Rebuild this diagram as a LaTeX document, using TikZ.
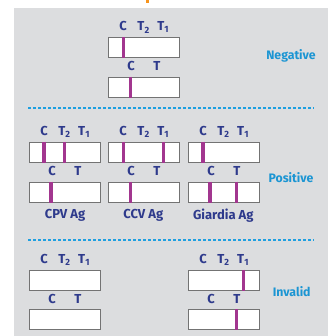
\documentclass[tikz,border=0pt]{standalone}
\usepackage{fontspec}
\setmainfont{Fira Sans}
\usetikzlibrary{positioning}
\definecolor{navy}{HTML}{2E3A8C}
\definecolor{skyblue}{HTML}{1B95D3}
\definecolor{bandpurple}{HTML}{A2368F}
\definecolor{panelgray}{HTML}{DCDDDF}
\definecolor{dashblue}{HTML}{1E9FE0}
\definecolor{tickorange}{HTML}{F7941D}
\tikzstyle{strip} = [draw=black!55, fill=white, line width=0.8pt, minimum width=71pt, minimum height=20.3pt, inner sep=0pt]
\tikzstyle{band} = [bandpurple, line width=3.3pt]
\tikzstyle{lbl} = [text=navy, font=\bfseries\fontsize{13}{14}\selectfont, inner sep=0pt, anchor=base]
\tikzstyle{result} = [text=skyblue, font=\bfseries\fontsize{12.3}{13}\selectfont, inner sep=0pt]
\tikzstyle{sep} = [dashblue, line width=1.2pt, dash pattern=on 3pt off 2pt]

\begin{document}
\begin{tikzpicture}[x=1pt, y=-1pt]
	\useasboundingbox (0,0) rectangle (328,336);
	\fill[panelgray] (14,8) rectangle (328,336);
	\fill[tickorange] (145.7,0) rectangle (149.3,3.5);

	% negative
	\node[strip] (negA) at (143.8,47.5) {};
	\node[strip] (negB) at (143.8,87.5) {};
	\node[lbl] (negAc) at ([xshift=15.3pt, yshift=6pt]negA.north west) {C};
	\node[lbl] (negAt2) at ([xshift=35.7pt, yshift=6pt]negA.north west) {T\textsubscript{2}};
	\node[lbl] (negAt1) at ([xshift=55.3pt, yshift=6pt]negA.north west) {T\textsubscript{1}};
	\node[lbl] (negBc) at ([xshift=23.3pt, yshift=6pt]negB.north west) {C};
	\node[lbl] (negBt) at ([xshift=49pt, yshift=6pt]negB.north west) {T};
	\draw[band] ([xshift=15.3pt]negA.north west) -- ([xshift=15.3pt]negA.south west);
	\draw[band] ([xshift=22.3pt]negB.north west) -- ([xshift=22.3pt]negB.south west);
	\node[result] (neg) at (291,55.5) {Negative};

	\draw[sep] (28.3,108) -- (314,108);

	% positive
	\node[strip] (cpvA) at (64.7,152.2) {};
	\node[strip] (cpvB) at (64.7,192.3) {};
	\node[strip] (ccvA) at (143.8,152.2) {};
	\node[strip] (ccvB) at (143.8,192.3) {};
	\node[strip] (giaA) at (223.7,152.2) {};
	\node[strip] (giaB) at (223.7,192.3) {};
	\foreach \s in {cpvA,ccvA,giaA}{
		\node[lbl] at ([xshift=15.3pt, yshift=6pt]\s.north west) {C};
		\node[lbl] at ([xshift=35.7pt, yshift=6pt]\s.north west) {T\textsubscript{2}};
		\node[lbl] at ([xshift=55.3pt, yshift=6pt]\s.north west) {T\textsubscript{1}};
	}
	\foreach \s in {cpvB,ccvB,giaB}{
		\node[lbl] at ([xshift=23.3pt, yshift=6pt]\s.north west) {C};
		\node[lbl] at ([xshift=49pt, yshift=6pt]\s.north west) {T};
	}
	\draw[band] ([xshift=15.3pt]cpvA.north west) -- ([xshift=15.3pt]cpvA.south west);
	\draw[band] ([xshift=35.7pt]cpvA.north west) -- ([xshift=35.7pt]cpvA.south west);
	\draw[band] ([xshift=22.3pt]cpvB.north west) -- ([xshift=22.3pt]cpvB.south west);
	\draw[band] ([xshift=15.3pt]ccvA.north west) -- ([xshift=15.3pt]ccvA.south west);
	\draw[band] ([xshift=55.3pt]ccvA.north west) -- ([xshift=55.3pt]ccvA.south west);
	\draw[band] ([xshift=22.3pt]ccvB.north west) -- ([xshift=22.3pt]ccvB.south west);
	\draw[band] ([xshift=15.3pt]giaA.north west) -- ([xshift=15.3pt]giaA.south west);
	\draw[band] ([xshift=22.3pt]giaB.north west) -- ([xshift=22.3pt]giaB.south west);
	\draw[band] ([xshift=48.5pt]giaB.north west) -- ([xshift=48.5pt]giaB.south west);
	\node[lbl, anchor=center] (cpv) at (65,215.8) {CPV Ag};
	\node[lbl, anchor=center] (ccv) at (143.3,215.8) {CCV Ag};
	\node[lbl, anchor=center] (gia) at (223.3,215.8) {Giardia Ag};
	\node[result] (pos) at (291,177.3) {Positive};

	\draw[sep] (28.3,240) -- (314,240);

	% invalid
	\node[strip] (invlA) at (64.7,280.2) {};
	\node[strip] (invlB) at (64.7,319.7) {};
	\node[strip] (invrA) at (223.7,280.2) {};
	\node[strip] (invrB) at (223.7,319.7) {};
	\foreach \s in {invlA,invrA}{
		\node[lbl] at ([xshift=15.3pt, yshift=6pt]\s.north west) {C};
		\node[lbl] at ([xshift=35.7pt, yshift=6pt]\s.north west) {T\textsubscript{2}};
		\node[lbl] at ([xshift=55.3pt, yshift=6pt]\s.north west) {T\textsubscript{1}};
	}
	\foreach \s in {invlB,invrB}{
		\node[lbl] at ([xshift=23.3pt, yshift=6pt]\s.north west) {C};
		\node[lbl] at ([xshift=49pt, yshift=6pt]\s.north west) {T};
	}
	\draw[band] ([xshift=55.7pt]invrA.north west) -- ([xshift=55.7pt]invrA.south west);
	\draw[band] ([xshift=48.4pt]invrB.north west) -- ([xshift=48.4pt]invrB.south west);
	\node[result] (inv) at (291.7,291.7) {Invalid};
\end{tikzpicture}
\end{document}
